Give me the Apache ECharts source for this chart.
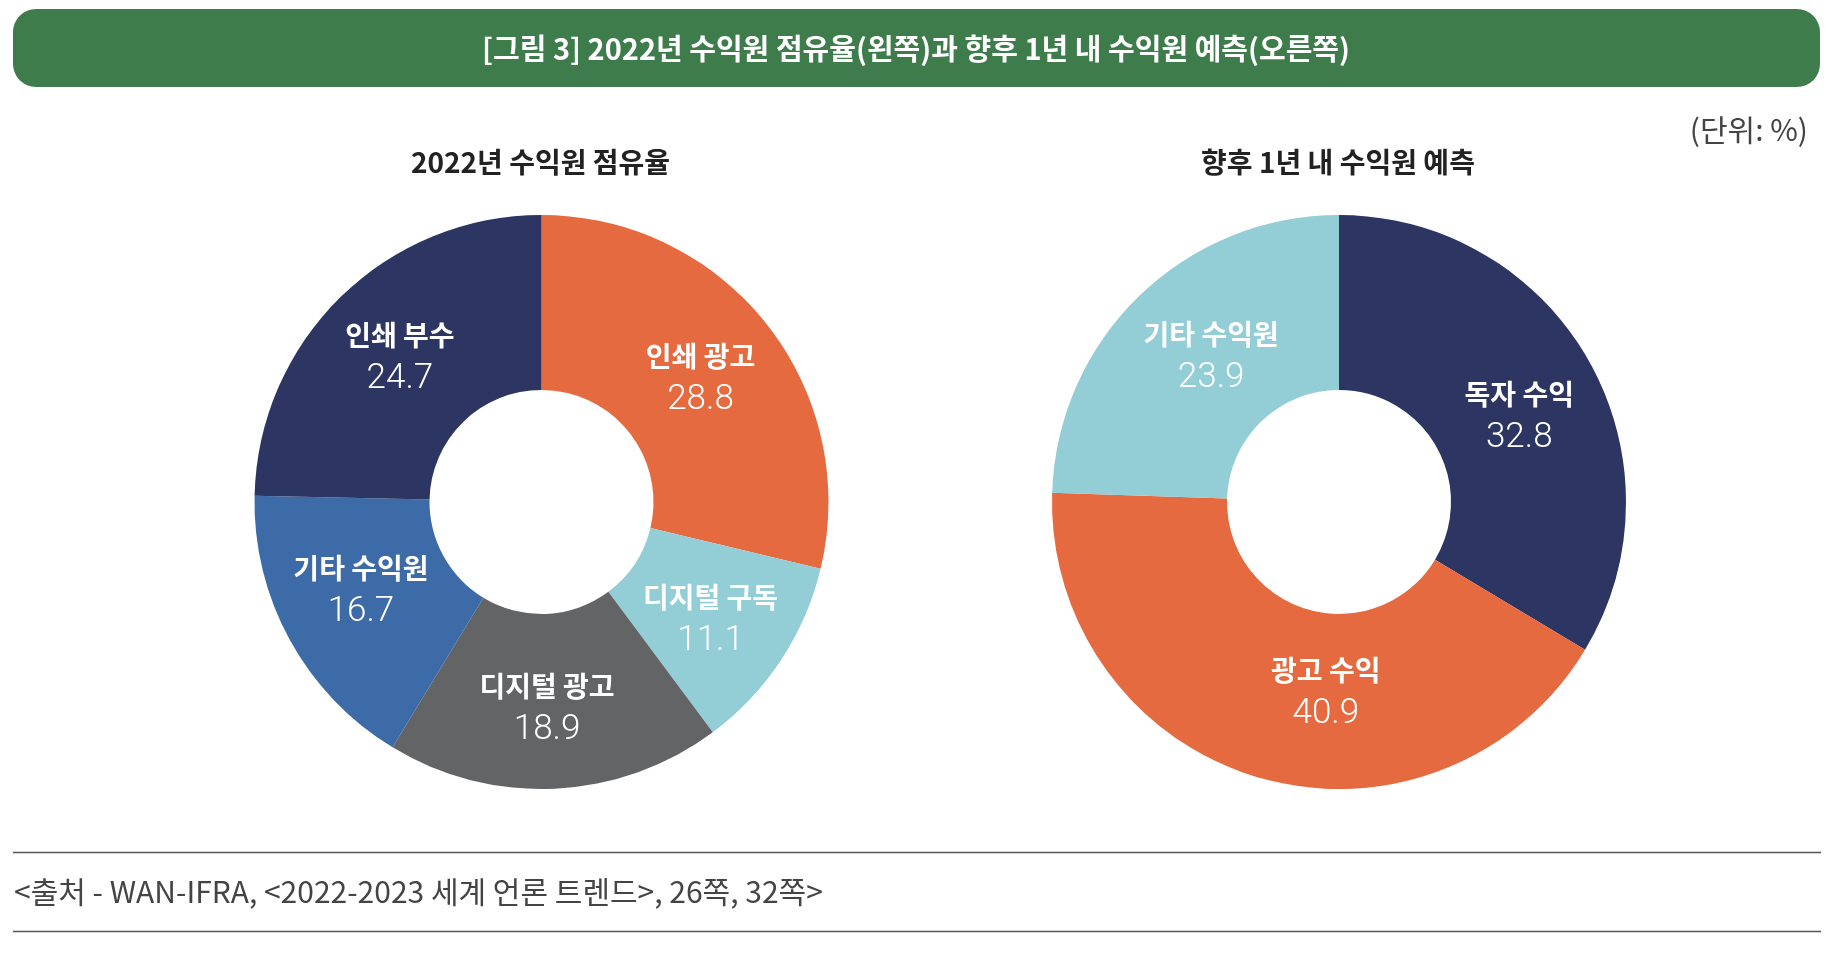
<!DOCTYPE html>
<html>
<head>
<meta charset="utf-8">
<script src="https://cdn.jsdelivr.net/npm/echarts@6/dist/echarts.min.js"></script>
<style>
html,body{margin:0;padding:0;background:#fff;}
#chart{width:1848px;height:956px;}
</style>
</head>
<body>
<div id="chart"></div>
<script>
// ---- data ----
const mainTitle = '[그림 3] 2022년 수익원 점유율(왼쪽)과 향후 1년 내 수익원 예측(오른쪽)';
const unitText = '(단위: %)';
const sourceText = '<출처 - WAN-IFRA, <2022-2023 세계 언론 트렌드>, 26쪽, 32쪽>';

const leftTitle = '2022년 수익원 점유율';
const leftCategories = ['인쇄 광고', '디지털 구독', '디지털 광고', '기타 수익원', '인쇄 부수'];
const leftValues = [28.8, 11.1, 18.9, 16.7, 24.7];
const leftColors = ['#E66A3F', '#93CDD5', '#636466', '#3C6BA8', '#2D3563'];

const rightTitle = '향후 1년 내 수익원 예측';
const rightCategories = ['독자 수익', '광고 수익', '기타 수익원'];
const rightValues = [32.8, 40.9, 23.9];
const rightColors = ['#2D3563', '#E66A3F', '#93CDD5'];

// label nudges (styling only, in px)
const leftLabelNudge = [[0, 2], [0, 6], [-4, 4], [-3, -9], [0, 0]];
const rightLabelNudge = [[4, 14], [44, -4], [13, 0]];

const KR = '"Noto Sans CJK KR", "Noto Sans", sans-serif';

function buildData(cats, vals, cols, nudge) {
  return cats.map((c, i) => ({
    name: c, value: vals[i],
    itemStyle: { color: cols[i] },
    label: { offset: nudge[i] }
  }));
}

const labelCfg = {
  show: true,
  position: 'inside',
  formatter: '{n|{b}}\n{v|{c}}',
  rich: {
    n: { fontFamily: KR, fontWeight: 'bold', fontSize: 28, color: '#fff', lineHeight: 44 },
    v: { fontFamily: 'Roboto, "Liberation Sans", sans-serif', fontWeight: 300, fontSize: 35, color: '#fff', lineHeight: 44 }
  }
};

function pieSeries(cx, data) {
  return {
    type: 'pie',
    center: [cx, 502],
    radius: [112, 287],
    startAngle: 90,
    clockwise: true,
    silent: true,
    animation: false,
    avoidLabelOverlap: false,
    label: labelCfg,
    labelLine: { show: false },
    itemStyle: { borderWidth: 0 },
    emphasis: { disabled: true },
    data: data
  };
}

const chart = echarts.init(document.getElementById('chart'), null, { renderer: 'canvas' });
chart.setOption({
  backgroundColor: '#ffffff',
  animation: false,
  series: [
    pieSeries(541.5, buildData(leftCategories, leftValues, leftColors, leftLabelNudge)),
    pieSeries(1339, buildData(rightCategories, rightValues, rightColors, rightLabelNudge))
  ],
  graphic: [
    { type: 'rect', shape: { x: 13, y: 9, width: 1807, height: 78, r: 23 }, style: { fill: '#3E7D4B' } },
    { type: 'text', x: 916, y: 49, style: { text: mainTitle, fill: '#fff', font: 'bold 29px ' + KR, textAlign: 'center', textVerticalAlign: 'middle' } },
    { type: 'text', x: 1808, y: 130, style: { text: unitText, fill: '#444', font: '30px ' + KR, textAlign: 'right', textVerticalAlign: 'middle' } },
    { type: 'text', x: 540.5, y: 162, style: { text: leftTitle, fill: '#222', font: 'bold 28px ' + KR, textAlign: 'center', textVerticalAlign: 'middle' } },
    { type: 'text', x: 1338, y: 162, style: { text: rightTitle, fill: '#222', font: 'bold 28px ' + KR, textAlign: 'center', textVerticalAlign: 'middle' } },
    { type: 'line', shape: { x1: 13, y1: 852.5, x2: 1821, y2: 852.5 }, style: { stroke: '#555', lineWidth: 1.6 } },
    { type: 'line', shape: { x1: 13, y1: 931.5, x2: 1821, y2: 931.5 }, style: { stroke: '#555', lineWidth: 1.6 } },
    { type: 'text', x: 14, y: 892, style: { text: sourceText, fill: '#444', font: '30px ' + KR, textAlign: 'left', textVerticalAlign: 'middle' } }
  ]
});
</script>
</body>
</html>
